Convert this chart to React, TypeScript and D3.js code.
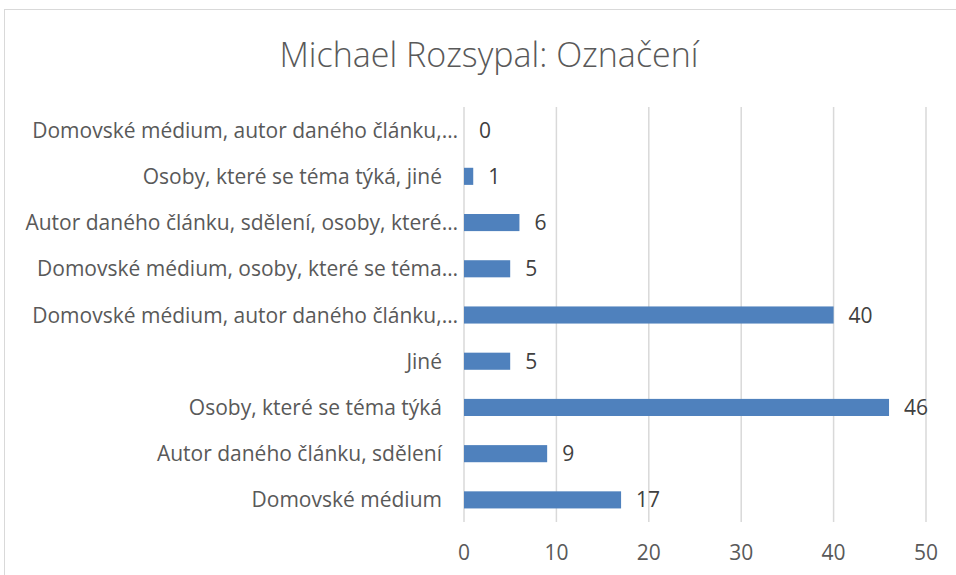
import * as d3 from 'd3';

const title = 'Michael Rozsypal: Označení';

// shora dolů, jak je v grafu
const categories = [
  'Domovské médium, autor daného článku,…',
  'Osoby, které se téma týká, jiné',
  'Autor daného článku, sdělení, osoby, které…',
  'Domovské médium, osoby, které se téma…',
  'Domovské médium, autor daného článku,…',
  'Jiné',
  'Osoby, které se téma týká',
  'Autor daného článku, sdělení',
  'Domovské médium',
];
const values = [0, 1, 6, 5, 40, 5, 46, 9, 17];
const xTicks = [0, 10, 20, 30, 40, 50];

const W = 956;
const H = 575;
const font = '"Open Sans", Lato, sans-serif';

export default function App() {
  const x = d3.scaleLinear().domain([0, 50]).range([464, 926]);
  const y = d3
    .scaleBand<number>()
    .domain(categories.map((_, i) => i))
    .range([107, 523])
    .paddingInner(0.63)
    .paddingOuter(0.315);

  return (
    <svg width={W} height={H} style={{ position: 'absolute', left: 0, top: 0, background: '#fff' }}>
      <rect x={4.5} y={9.5} width={1000} height={1000} fill="#fff" stroke="#d9d9d9" />
      <text x={489} y={67} textAnchor="middle" fontFamily={font} fontWeight={300} fontSize={34} fill="#595959">
        {title}
      </text>

      {/* mřížka */}
      {xTicks.map(t => (
        <line key={t} x1={x(t)} x2={x(t)} y1={107} y2={522} stroke="#d9d9d9" strokeWidth={1.5} />
      ))}

      {/* sloupce */}
      {values.map((v, i) => (
        <rect key={i} x={x(0)} y={y(i)!} width={x(v) - x(0)} height={y.bandwidth()} fill="#4f81bd" />
      ))}

      {/* popisky hodnot */}
      {values.map((v, i) => (
        <text
          key={i}
          x={x(v) + 15}
          y={y(i)! + y.bandwidth() / 2}
          dy="0.36em"
          fontFamily={font}
          fontSize={21}
          fill="#404040"
        >
          {v}
        </text>
      ))}

      {/* kategorie */}
      {categories.map((c, i) => (
        <text
          key={i}
          x={c.endsWith('…') ? 458 : 442}
          y={y(i)! + y.bandwidth() / 2}
          dy="0.36em"
          textAnchor="end"
          fontFamily={font}
          fontSize={21}
          fill="#595959"
        >
          {c}
        </text>
      ))}

      {/* osa x */}
      {xTicks.map(t => (
        <text key={t} x={x(t)} y={560} textAnchor="middle" fontFamily={font} fontSize={21} fill="#595959">
          {t}
        </text>
      ))}
    </svg>
  );
}
